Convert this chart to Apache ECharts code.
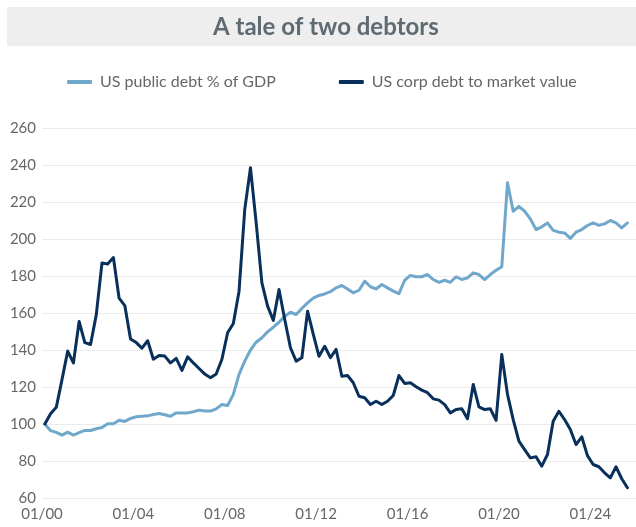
<!DOCTYPE html>
<html>
<head>
<meta charset="utf-8">
<script src="https://cdn.jsdelivr.net/npm/echarts@6/dist/echarts.min.js"></script>
<style>
html,body{margin:0;padding:0;background:#fff;}
#chart{width:636px;height:527px;}
</style>
</head>
<body>
<div id="chart"></div>
<script>
// Quarterly observations, 2000 Q1 onward (plotted mid-quarter)
const startYear = 2000;
const seriesNames = ['US public debt % of GDP', 'US corp debt to market value'];

const publicDebt = [
  100, 96.4, 95.5, 94, 95.6, 94, 95.3, 96.5, 96.5, 97.4,
  98.1, 100.1, 100.1, 102, 101.4, 103, 103.9, 104.2, 104.4, 105.1,
  105.7, 105, 104.2, 106, 106, 106, 106.6, 107.5, 107, 107,
  108.2, 110.5, 110, 116, 126.8, 134, 140, 144.2, 146.6, 149.8,
  152.3, 155, 158.3, 160.4, 159.2, 162.5, 165.5, 168, 169.5, 170.3,
  171.5, 173.6, 174.9, 173, 170.9, 172.3, 177.2, 174.2, 173, 175.4,
  173.6, 171.8, 170.5, 177.7, 180.3, 179.6, 179.6, 180.8, 178.1, 176.6,
  177.7, 176.6, 179.6, 178.1, 179, 181.7, 180.8, 178.1, 180.8, 183.1,
  185, 230.4, 215, 217.7, 215, 210.9, 205.1, 206.6, 208.7, 204.7,
  203.7, 203.3, 200.3, 203.7, 205.1, 207.3, 208.7, 207.4, 208.2, 210,
  208.7, 206, 208.7
];

const corpDebt = [
  100, 105.5, 109, 124, 139.4, 133, 155.4, 144, 143, 159,
  187, 186.5, 190, 168, 164, 146, 144, 141, 145, 135,
  137, 136.7, 133, 135.5, 129, 136.3, 133, 130, 127, 125,
  127, 135, 149.3, 154.3, 171.8, 216, 238.5, 208.7, 176.3, 163.7,
  156, 172.7, 156.5, 141.2, 134, 135.8, 161, 148.4, 136.6, 142,
  135.9, 140.3, 125.8, 126.2, 122.3, 115, 114.2, 110.5, 112.3, 110.5,
  112.3, 115.4, 126.2, 121.9, 122.3, 120.1, 118.3, 116.9, 113.6, 112.9,
  110.5, 106, 107.8, 108.2, 102.8, 121.4, 109.3, 107.8, 108.2, 102,
  137.6, 116, 102.4, 90.7, 86.2, 81.7, 82.3, 77.2, 83.5, 101.5,
  106.9, 102.4, 97, 88.9, 93.1, 82.9, 78.1, 76.9, 73.6, 70.9,
  76.9, 70.4, 65.5
];

const xTickLabels = ['01/00', '01/04', '01/08', '01/12', '01/16', '01/20', '01/24'];
const yTicks = [60, 80, 100, 120, 140, 160, 180, 200, 220, 240, 260];

// quarter positions (in years) derived from the quarter index
const quarterPos = publicDebt.map((_, k) => startYear + (k + 0.5) / 4);

const chart = echarts.init(document.getElementById('chart'), null, {renderer: 'canvas'});
const FONT = 'Lato, "Open Sans", sans-serif';

chart.setOption({
  animation: false,
  backgroundColor: '#ffffff',
  graphic: [{
    type: 'rect',
    left: 7, top: 7,
    shape: {width: 640, height: 39},
    style: {fill: '#eeeeee'},
    silent: true,
    z: -1
  }],
  title: {
    text: 'A tale of two debtors',
    left: 208,
    top: 10,
    textStyle: {fontFamily: FONT, fontSize: 24, fontWeight: 'bold', color: '#5f6b73'}
  },
  legend: {
    top: 74,
    left: 67,
    padding: 0,
    itemWidth: 25,
    itemHeight: 4,
    itemGap: 63,
    icon: 'roundRect',
    textStyle: {fontFamily: FONT, fontSize: 16, color: '#666666', padding: [0, 0, 0, 3]},
    data: seriesNames
  },
  grid: {left: 42, right: -10.5, top: 128, bottom: 29},
  xAxis: {
    type: 'value',
    min: startYear,
    max: startYear + 26,
    interval: 4,
    axisLine: {show: false},
    axisTick: {show: false},
    splitLine: {show: false},
    axisLabel: {
      fontFamily: FONT, fontSize: 15, color: '#666666', margin: 9,
      showMaxLabel: false,
      formatter: v => {
        const i = Math.round((v - startYear) / 4);
        return xTickLabels[i] !== undefined ? xTickLabels[i] : '';
      }
    }
  },
  yAxis: {
    type: 'value',
    min: yTicks[0],
    max: yTicks[yTicks.length - 1],
    interval: 20,
    axisLine: {show: false},
    axisTick: {show: false},
    splitLine: {lineStyle: {color: '#ebebeb', width: 1}},
    axisLabel: {fontFamily: FONT, fontSize: 15, color: '#666666', margin: 6}
  },
  series: [
    {
      name: seriesNames[0],
      type: 'line',
      showSymbol: false,
      symbol: 'none',
      data: publicDebt.map((v, k) => [quarterPos[k], v]),
      lineStyle: {color: '#6fa8cb', width: 3, join: 'round', cap: 'round'},
      itemStyle: {color: '#6fa8cb'},
      z: 2
    },
    {
      name: seriesNames[1],
      type: 'line',
      showSymbol: false,
      symbol: 'none',
      data: corpDebt.map((v, k) => [quarterPos[k], v]),
      lineStyle: {color: '#08305b', width: 3, join: 'round', cap: 'round'},
      itemStyle: {color: '#08305b'},
      z: 3
    }
  ]
});
</script>
</body>
</html>
